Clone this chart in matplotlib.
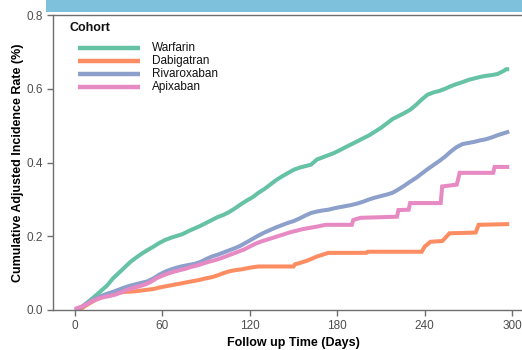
import matplotlib
matplotlib.use("Agg")
import matplotlib.pyplot as plt
from matplotlib.patches import Rectangle
from matplotlib.lines import Line2D

plt.rcParams['font.family'] = ['Liberation Sans', 'DejaVu Sans']

cohorts = ["Warfarin", "Dabigatran", "Rivaroxaban", "Apixaban"]
colors = ["#66c2a5", "#fc8d62", "#8da0cb", "#e78ac3"]

warfarin_days = [0, 3, 6, 10, 14, 18, 22, 26, 30, 34, 38, 42, 46, 50, 54, 58, 62, 66, 70, 74,
                 78, 82, 86, 90, 94, 98, 102, 106, 110, 114, 118, 122, 126, 130, 134, 138, 142,
                 146, 150, 154, 158, 162, 166, 170, 174, 178, 182, 186, 190, 194, 198, 202, 206,
                 210, 214, 218, 222, 226, 230, 234, 238, 242, 246, 250, 254, 258, 262, 266, 270,
                 274, 278, 282, 286, 290, 294, 296, 298]
warfarin_vals = [0.0, 0.0, 0.012, 0.025, 0.038, 0.052, 0.066, 0.085, 0.100, 0.115, 0.130, 0.142,
                 0.153, 0.163, 0.172, 0.182, 0.190, 0.196, 0.201, 0.206, 0.214, 0.221, 0.228,
                 0.236, 0.244, 0.252, 0.258, 0.266, 0.276, 0.287, 0.297, 0.306, 0.318, 0.328,
                 0.340, 0.352, 0.362, 0.371, 0.380, 0.386, 0.390, 0.394, 0.408, 0.414, 0.420,
                 0.426, 0.434, 0.442, 0.450, 0.458, 0.466, 0.474, 0.484, 0.494, 0.506, 0.518,
                 0.526, 0.534, 0.543, 0.556, 0.571, 0.584, 0.590, 0.594, 0.600, 0.607, 0.613,
                 0.618, 0.624, 0.628, 0.632, 0.635, 0.637, 0.640, 0.648, 0.653, 0.653]

dabigatran_days = [0, 3, 6, 10, 14, 18, 22, 26, 30, 34, 38, 42, 46, 50, 54, 58, 62, 66, 70, 74,
                   78, 82, 86, 90, 94, 98, 102, 106, 110, 114, 118, 122, 126, 150, 151, 154, 158,
                   162, 166, 170, 174, 200, 201, 238, 240, 244, 252, 254, 257, 275, 277, 298]
dabigatran_vals = [0.0, 0.0, 0.008, 0.018, 0.027, 0.034, 0.040, 0.044, 0.047, 0.049, 0.050, 0.051,
                   0.053, 0.055, 0.057, 0.061, 0.064, 0.067, 0.070, 0.073, 0.076, 0.079, 0.082,
                   0.086, 0.089, 0.094, 0.100, 0.105, 0.108, 0.110, 0.113, 0.116, 0.118, 0.118,
                   0.124, 0.127, 0.132, 0.138, 0.145, 0.150, 0.155, 0.155, 0.158, 0.158, 0.172,
                   0.185, 0.187, 0.195, 0.208, 0.210, 0.231, 0.233]

rivaroxaban_days = [0, 3, 6, 10, 14, 18, 22, 26, 30, 34, 38, 42, 46, 50, 54, 58, 62, 66, 70, 74,
                    78, 82, 86, 90, 94, 98, 102, 106, 110, 114, 118, 122, 126, 130, 134, 138, 142,
                    146, 150, 154, 158, 162, 166, 170, 174, 178, 182, 186, 190, 194, 198, 202,
                    206, 210, 214, 218, 222, 226, 230, 234, 238, 242, 246, 250, 254, 258, 262,
                    266, 270, 274, 278, 282, 286, 290, 294, 298]
rivaroxaban_vals = [0.0, 0.005, 0.012, 0.022, 0.031, 0.038, 0.044, 0.049, 0.055, 0.061, 0.066,
                    0.070, 0.074, 0.078, 0.086, 0.096, 0.104, 0.110, 0.115, 0.119, 0.122, 0.125,
                    0.130, 0.138, 0.145, 0.150, 0.156, 0.162, 0.168, 0.175, 0.184, 0.193, 0.202,
                    0.210, 0.217, 0.224, 0.230, 0.236, 0.241, 0.248, 0.256, 0.263, 0.267, 0.270,
                    0.272, 0.276, 0.279, 0.282, 0.285, 0.289, 0.294, 0.300, 0.305, 0.309, 0.313,
                    0.318, 0.327, 0.337, 0.348, 0.358, 0.370, 0.382, 0.393, 0.404, 0.416, 0.430,
                    0.442, 0.450, 0.453, 0.456, 0.460, 0.463, 0.468, 0.474, 0.479, 0.484]

apixaban_days = [0, 4, 8, 12, 16, 20, 24, 28, 32, 36, 40, 44, 48, 52, 56, 60, 64, 68, 72, 76, 80,
                 84, 88, 92, 96, 100, 104, 108, 112, 116, 120, 124, 128, 132, 136, 140, 144, 148,
                 152, 156, 160, 166, 172, 190, 191, 196, 221, 222, 229, 230, 251, 252, 262, 264,
                 287, 288, 298]
apixaban_vals = [0.003, 0.008, 0.015, 0.024, 0.031, 0.035, 0.038, 0.042, 0.048, 0.055, 0.060,
                 0.064, 0.069, 0.076, 0.086, 0.093, 0.099, 0.104, 0.108, 0.112, 0.117, 0.121,
                 0.126, 0.131, 0.135, 0.140, 0.146, 0.152, 0.158, 0.164, 0.172, 0.180, 0.186,
                 0.191, 0.196, 0.201, 0.206, 0.211, 0.215, 0.219, 0.222, 0.226, 0.231, 0.231,
                 0.244, 0.250, 0.253, 0.271, 0.272, 0.290, 0.290, 0.335, 0.340, 0.372, 0.372,
                 0.388, 0.388]

series = [(warfarin_days, warfarin_vals), (dabigatran_days, dabigatran_vals),
          (rivaroxaban_days, rivaroxaban_vals), (apixaban_days, apixaban_vals)]

x_ticks = [0, 60, 120, 180, 240, 300]
y_ticks = [0.0, 0.2, 0.4, 0.6, 0.8]
y_ticklabels = ["0.0", "0.2", "0.4", "0.6", "0.8"]

W, H = 522, 350
fig = plt.figure(figsize=(W / 100, H / 100), dpi=100)
ax = fig.add_axes([53 / W, 40 / H, 481 / W, 295 / H])

for name, col, (d, v) in zip(cohorts, colors, series):
    ax.plot(d, v, color=col, lw=2.9, label=name, solid_capstyle="butt",
            solid_joinstyle="miter")

ax.set_xlim(-15, 315)
ax.set_ylim(0, 0.8)
ax.set_xticks(x_ticks)
ax.set_yticks(y_ticks)
ax.set_yticklabels(y_ticklabels)

spine_col = "#6e6e6e"
for s in ["left", "bottom", "top"]:
    ax.spines[s].set_color(spine_col)
    ax.spines[s].set_linewidth(1.0)
ax.spines["right"].set_visible(False)
ax.tick_params(axis="both", color=spine_col, labelcolor="#4d4d4d", labelsize=8.5,
               length=4, width=1.0, direction="out", pad=3)

ax.set_xlabel("Follow up Time (Days)", fontsize=9, fontweight="bold", labelpad=4)
ax.set_ylabel("Cumulative Adjusted Incidence Rate (%)", fontsize=9, fontweight="bold",
              labelpad=2)

# legend drawn in figure pixel positions
def fx(px):
    return px / W

def fy(py):
    return (H - py) / H

fig.text(fx(70), fy(28), "Cohort", fontsize=9, fontweight="bold", color="#111111",
         ha="left", va="center")
for i, (name, col) in enumerate(zip(cohorts, colors)):
    yy = 48 + 13 * i
    fig.add_artist(Line2D([fx(78), fx(140)], [fy(yy), fy(yy)], color=col, lw=3.2,
                          transform=fig.transFigure, solid_capstyle="butt"))
    fig.text(fx(152), fy(yy), name, fontsize=8.5, color="#111111", ha="left", va="center")

fig.patches.append(Rectangle((46 / W, 338 / H), 1.0, 12 / H, transform=fig.transFigure,
                             facecolor="#7ec1dc", edgecolor="none", zorder=10))

fig.savefig("out.png", dpi=100)
